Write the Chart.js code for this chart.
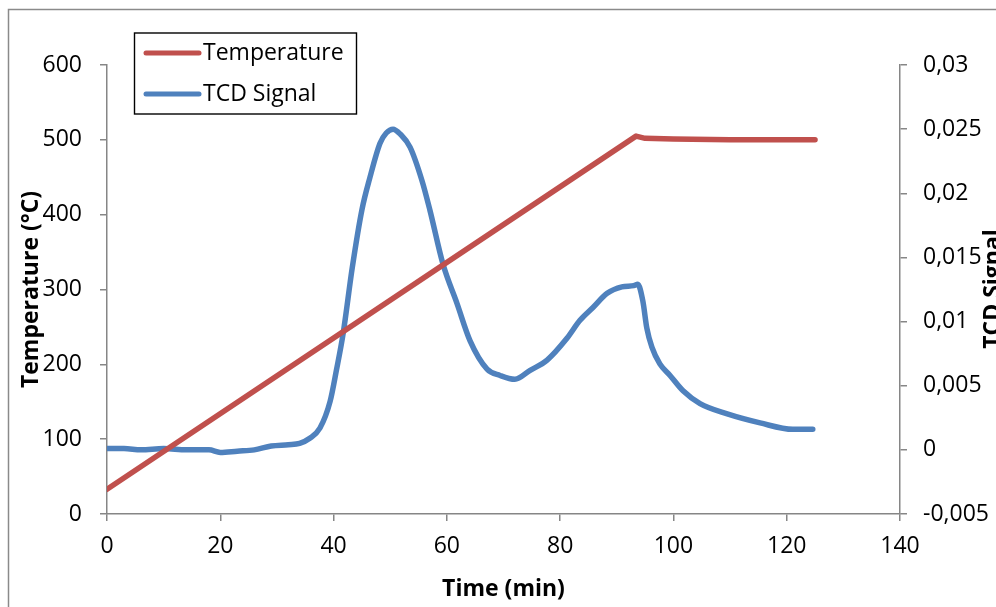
<!DOCTYPE html>
<html>
<head>
<meta charset="utf-8">
<title>TPR profile</title>
<script src="https://cdn.jsdelivr.net/npm/chart.js@4.4.1/dist/chart.umd.min.js"></script>
<style>
  html, body { margin: 0; padding: 0; background: #fff; overflow: hidden; }
  canvas { display: block; }
</style>
</head>
<body>
<canvas id="tpr" width="996" height="607"></canvas>
<script>
// temperature program (left axis)
const tempTime = [0, 93.4, 95, 100, 110, 125]
const tempValues = [33, 505, 502, 501, 500, 500]

// TCD signal (right axis)
const tcdTime = [0, 3, 6, 10, 14, 18, 20, 23, 26, 29, 32, 34, 35.8, 37.6, 39.4, 40.5, 41.7, 43.3, 45, 46.4, 48.2, 49.3, 50.5, 51.8, 53.5, 55.6, 57, 59.3, 61.8, 64.1, 67.1, 69.4, 72, 74.7, 77.7, 81.2, 83.5, 85.8, 88.3, 90.9, 93, 93.7, 94.6, 95.3, 96.2, 97.6, 99.4, 101.7, 104.7, 109.5, 115.3, 121.1, 124.6]
const tcdValues = [0.0001, 0.0001, 0.0000, 0.0001, 0.0000, 0.0000, -0.0002, -0.0001, 0.0000, 0.0003, 0.0004, 0.0005, 0.0009, 0.0017, 0.0038, 0.0062, 0.0091, 0.0142, 0.0187, 0.0212, 0.0239, 0.0247, 0.0250, 0.0246, 0.0236, 0.0210, 0.0187, 0.0145, 0.0114, 0.0085, 0.0063, 0.0058, 0.0055, 0.0062, 0.0070, 0.0087, 0.0101, 0.0111, 0.0122, 0.0127, 0.0128, 0.0129, 0.0116, 0.0095, 0.0080, 0.0067, 0.0058, 0.0046, 0.0036, 0.0028, 0.0021, 0.0016, 0.0016]

// tick labels
const timeTicks = ['0', '20', '40', '60', '80', '100', '120', '140']
const tempTicks = ['0', '100', '200', '300', '400', '500', '600']
const tcdTicks = ['-0,005', '0', '0,005', '0,01', '0,015', '0,02', '0,025', '0,03']

const fontFamily = '"Open Sans", "DejaVu Sans", sans-serif'
const axisGray = '#868686'
const red = '#C0504D'
const blue = '#4F81BD'

const axisGrid = {
    display: true,
    drawOnChartArea: false,
    drawTicks: true,
    tickLength: 7,
    color: axisGray,
    lineWidth: 1.5
}
const axisBorder = { display: true, color: axisGray, width: 1.5 }

// outer frame, legend box and right axis title
const decorations = {
    id: 'decorations',
    afterDraw(chart) {
        const ctx = chart.ctx
        ctx.save()

        // chart frame (only top and left edges are inside the picture)
        ctx.strokeStyle = '#8a8a8a'
        ctx.lineWidth = 1.5
        ctx.beginPath()
        ctx.moveTo(8.5, 607)
        ctx.lineTo(8.5, 9.5)
        ctx.lineTo(996, 9.5)
        ctx.stroke()

        // legend
        ctx.strokeStyle = '#000'
        ctx.lineWidth = 1.4
        ctx.strokeRect(134.5, 33, 222, 81)
        const rows = [53, 94]
        chart.data.datasets.forEach((ds, i) => {
            ctx.strokeStyle = ds.borderColor
            ctx.lineWidth = 5
            ctx.lineCap = 'round'
            ctx.beginPath()
            ctx.moveTo(146, rows[i])
            ctx.lineTo(199, rows[i])
            ctx.stroke()
            ctx.fillStyle = '#000'
            ctx.font = '23px ' + fontFamily
            ctx.textAlign = 'left'
            ctx.textBaseline = 'middle'
            ctx.fillText(ds.label, 203, rows[i])
        })

        // right axis title, reading bottom to top, cut by the page edge
        ctx.translate(1000, 289)
        ctx.rotate(-Math.PI / 2)
        ctx.fillStyle = '#000'
        ctx.font = 'bold 23px ' + fontFamily
        ctx.textAlign = 'center'
        ctx.textBaseline = 'alphabetic'
        ctx.fillText('TCD Signal', 0, 0)
        ctx.restore()
    }
}

new Chart(document.getElementById('tpr'), {
    type: 'line',
    data: {
        datasets: [{
            label: 'Temperature',
            data: tempTime.map((t, i) => ({ x: t, y: tempValues[i] })),
            yAxisID: 'y',
            borderColor: red,
            backgroundColor: red,
            borderWidth: 5.5,
            pointRadius: 0,
            tension: 0,
            borderCapStyle: 'round',
            borderJoinStyle: 'round'
        }, {
            label: 'TCD Signal',
            data: tcdTime.map((t, i) => ({ x: t, y: tcdValues[i] })),
            yAxisID: 'y2',
            borderColor: blue,
            backgroundColor: blue,
            borderWidth: 5.5,
            pointRadius: 0,
            cubicInterpolationMode: 'monotone',
            borderCapStyle: 'round',
            borderJoinStyle: 'round'
        }]
    },
    options: {
        responsive: false,
        animation: false,
        layout: { padding: { top: 65, left: 0, right: 0, bottom: 0 } },
        plugins: {
            legend: { display: false },
            tooltip: { enabled: false }
        },
        scales: {
            x: {
                type: 'linear',
                min: 0,
                max: 140,
                ticks: {
                    stepSize: 20,
                    padding: 12,
                    color: '#000',
                    font: { family: fontFamily, size: 23 },
                    callback: (v, i) => timeTicks[i]
                },
                grid: axisGrid,
                border: axisBorder,
                title: {
                    display: true,
                    text: 'Time (min)',
                    color: '#000',
                    font: { family: fontFamily, size: 23, weight: 'bold' },
                    padding: { top: 0, bottom: 4 }
                },
                afterFit: scale => { scale.height = 93 }
            },
            y: {
                position: 'left',
                min: 0,
                max: 600,
                ticks: {
                    stepSize: 100,
                    padding: 18,
                    color: '#000',
                    font: { family: fontFamily, size: 23 },
                    callback: (v, i) => tempTicks[i]
                },
                grid: axisGrid,
                border: axisBorder,
                title: {
                    display: true,
                    text: 'Temperature (°C)',
                    color: '#000',
                    font: { family: fontFamily, size: 23, weight: 'bold' },
                    padding: { top: 18, bottom: 0 }
                },
                afterFit: scale => { scale.width = 107 }
            },
            y2: {
                position: 'right',
                min: -0.005,
                max: 0.03,
                ticks: {
                    stepSize: 0.005,
                    padding: 16,
                    color: '#000',
                    font: { family: fontFamily, size: 23 },
                    callback: (v, i) => tcdTicks[i]
                },
                grid: axisGrid,
                border: axisBorder,
                afterFit: scale => { scale.width = 96 }
            }
        }
    },
    plugins: [decorations]
})
</script>
</body>
</html>
